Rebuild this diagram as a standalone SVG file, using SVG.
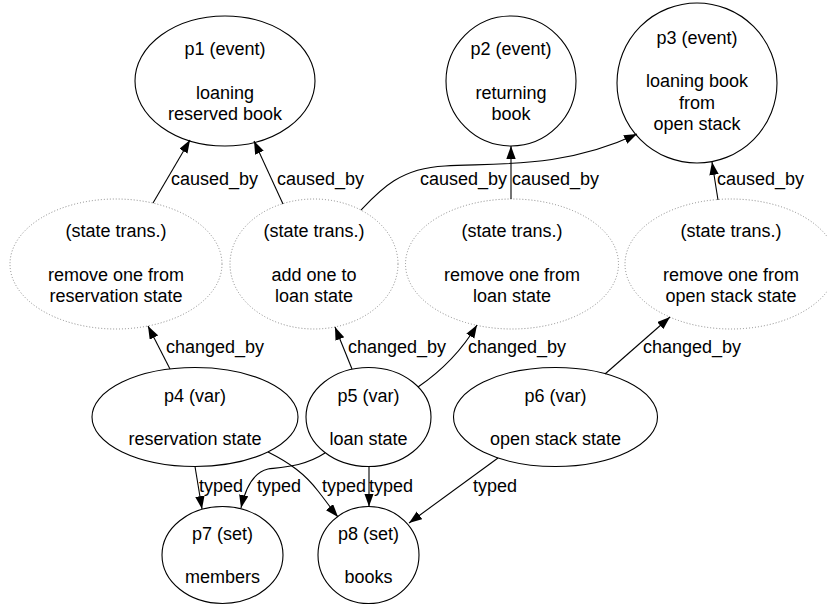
<svg xmlns="http://www.w3.org/2000/svg" width="827" height="610" viewBox="0 0 827 610">
<defs>
<marker id="ah" markerUnits="userSpaceOnUse" markerWidth="14" markerHeight="10" refX="13" refY="4.7" orient="auto">
<path d="M0,0 L13,4.7 L0,9.4 z" fill="#000"/>
</marker>
<style>
text{font-family:"Liberation Sans",Arial,Helvetica,sans-serif;font-size:18px;fill:#000}
.n text{text-anchor:middle}
.solid{fill:#fff;stroke:#000;stroke-width:1.1}
.dot{fill:#fff;stroke:#888;stroke-width:1;stroke-dasharray:1,2}
.e path{fill:none;stroke:#000;stroke-width:1.1;marker-end:url(#ah)}
</style>
</defs>
<rect width="827" height="610" fill="#fff"/>
<g id="p1" class="n"><ellipse class="solid" cx="225" cy="81" rx="90" ry="65"/><text x="225" y="55">p1 (event)</text><text x="225" y="99">loaning</text><text x="225" y="120">reserved book</text></g>
<g id="p2" class="n"><circle class="solid" cx="511" cy="81" r="65"/><text x="511" y="55">p2 (event)</text><text x="511" y="99">returning</text><text x="511" y="120">book</text></g>
<g id="p3" class="n"><circle class="solid" cx="697" cy="83" r="80"/><text x="697" y="44">p3 (event)</text><text x="697" y="87">loaning book</text><text x="697" y="109">from</text><text x="697" y="130">open stack</text></g>
<g id="s1" class="n"><ellipse class="dot" cx="116" cy="264" rx="106" ry="65"/><text x="116" y="237">(state trans.)</text><text x="116" y="281">remove one from</text><text x="116" y="302">reservation state</text></g>
<g id="s2" class="n"><ellipse class="dot" cx="314" cy="264" rx="84" ry="65"/><text x="314" y="237">(state trans.)</text><text x="314" y="281">add one to</text><text x="314" y="302">loan state</text></g>
<g id="s3" class="n"><ellipse class="dot" cx="512" cy="264" rx="106.5" ry="65"/><text x="512" y="237">(state trans.)</text><text x="512" y="281">remove one from</text><text x="512" y="302">loan state</text></g>
<g id="s4" class="n"><ellipse class="dot" cx="731" cy="264" rx="106" ry="65"/><text x="731" y="237">(state trans.)</text><text x="731" y="281">remove one from</text><text x="731" y="302">open stack state</text></g>
<g id="p4" class="n"><ellipse class="solid" cx="195" cy="417" rx="103" ry="49.5"/><text x="195" y="402">p4 (var)</text><text x="195" y="445">reservation state</text></g>
<g id="p5" class="n"><ellipse class="solid" cx="368.5" cy="417" rx="62.5" ry="49.5"/><text x="368.5" y="402">p5 (var)</text><text x="368.5" y="445">loan state</text></g>
<g id="p6" class="n"><ellipse class="solid" cx="555.5" cy="417" rx="102" ry="49.5"/><text x="555.5" y="402">p6 (var)</text><text x="555.5" y="445">open stack state</text></g>
<g id="p7" class="n"><ellipse class="solid" cx="222.5" cy="555" rx="60.5" ry="48.5"/><text x="222.5" y="540">p7 (set)</text><text x="222.5" y="583">members</text></g>
<g id="p8" class="n"><ellipse class="solid" cx="368.5" cy="555" rx="50.5" ry="48.5"/><text x="368.5" y="540">p8 (set)</text><text x="368.5" y="583">books</text></g>
<g id="edges" class="e">
<path d="M153,203 L190,140"/>
<path d="M283,204 L254,141"/>
<path d="M361,210 C380,190 400,168 445,166 C500,163 565,168 637,134"/>
<path d="M511,199 L511,146"/>
<path d="M718,200 L712,162"/>
<path d="M170,369 L148,326"/>
<path d="M352,369 L335,327"/>
<path d="M418,387 C440,372 462,350 477,325"/>
<path d="M605,374 L670,317"/>
<path d="M195,466.5 L202,509"/>
<path d="M325,453 C305,466 285,467 268,469 C255,472 246,485 241,508"/>
<path d="M268,452 C290,463 305,474 318,491 C326,501 332,510 338,517"/>
<path d="M369,466.5 L369,506.5"/>
<path d="M498,458 L409,523"/>
</g>
<g id="labels">
<text x="171" y="185">caused_by</text>
<text x="277" y="185">caused_by</text>
<text x="420" y="185">caused_by</text>
<text x="512" y="185">caused_by</text>
<text x="717" y="185">caused_by</text>
<text x="166" y="353">changed_by</text>
<text x="348" y="353">changed_by</text>
<text x="468" y="353">changed_by</text>
<text x="643" y="353">changed_by</text>
<text x="199" y="492">typed</text>
<text x="257" y="492">typed</text>
<text x="322" y="492">typed</text>
<text x="369" y="492">typed</text>
<text x="473" y="492">typed</text>
</g>
</svg>
